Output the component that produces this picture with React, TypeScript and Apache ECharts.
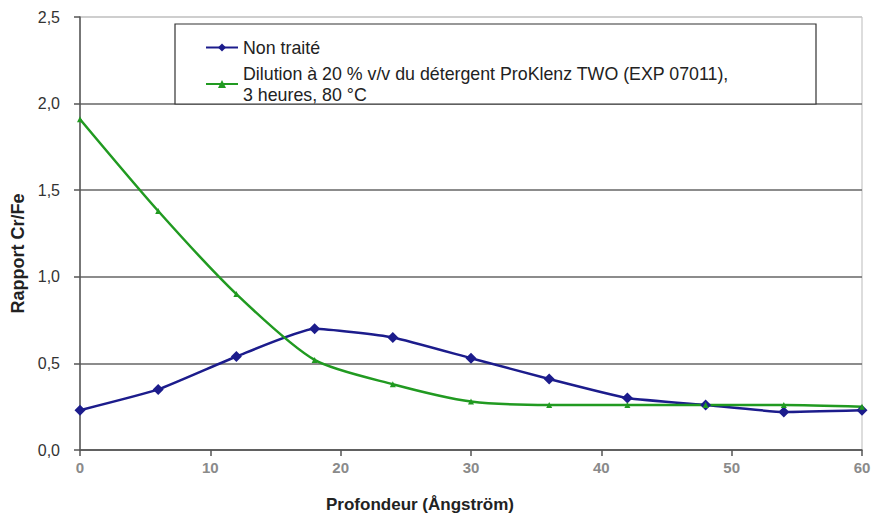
import React, { useEffect, useRef } from "react";
import * as echarts from "echarts";

const depths = [0, 6, 12, 18, 24, 30, 36, 42, 48, 54, 60];
const untreated = [0.23, 0.35, 0.54, 0.7, 0.65, 0.53, 0.41, 0.3, 0.26, 0.22, 0.23];
const treated = [1.91, 1.38, 0.9, 0.52, 0.38, 0.28, 0.26, 0.26, 0.26, 0.26, 0.25];
const seriesNames = ["Non traité", "Dilution à 20 % v/v du détergent ProKlenz TWO (EXP 07011),\n3 heures, 80 °C"];
const xTitle = "Profondeur (Ångström)";
const yTitle = "Rapport Cr/Fe";

export default function App() {
  const ref = useRef<HTMLDivElement>(null);
  useEffect(() => {
    document.body.style.margin = "0";
    const chart = echarts.init(ref.current!, null, { renderer: "svg" });
    const font = "'Liberation Sans', Arial, sans-serif";
    chart.setOption({
      animation: false,
      backgroundColor: "#fff",
      textStyle: { fontFamily: font },
      grid: { left: 80, right: 12, top: 17, bottom: 65, show: true, borderColor: "#bbb", borderWidth: 1 },
      graphic: [
        {
          type: "rect",
          z: 3,
          shape: { x: 175, y: 24, width: 641, height: 80 },
          style: { fill: "#fff", stroke: "#333", lineWidth: 1.2 },
        },
      ],
      legend: {
        orient: "vertical",
        left: 200,
        top: 32,
        z: 5,
        itemWidth: 32,
        itemHeight: 10,
        itemGap: 5,
        textStyle: { fontSize: 17.8, color: "#222", lineHeight: 21, fontFamily: font },
        data: seriesNames,
      },
      xAxis: {
        type: "value",
        min: 0,
        max: 60,
        interval: 10,
        name: xTitle,
        nameLocation: "middle",
        nameGap: 46,
        nameTextStyle: { fontSize: 17, fontWeight: "bold", color: "#222", padding: [0, 102, 0, 0] },
        axisLine: { lineStyle: { color: "#555", width: 1.5 } },
        axisTick: { show: true, length: 6, lineStyle: { color: "#555", width: 1.5 } },
        axisLabel: { color: "#8a8a8a", fontSize: 15, fontWeight: "bold", margin: 10 },
        splitLine: { show: false },
      },
      yAxis: {
        type: "value",
        min: 0,
        max: 2.5,
        interval: 0.5,
        name: yTitle,
        nameLocation: "middle",
        nameGap: 46,
        nameTextStyle: { fontSize: 18, fontWeight: "bold", color: "#222", padding: [0, 40, 0, 0] },
        axisLine: { show: true, lineStyle: { color: "#555", width: 1.5 } },
        axisTick: { show: true, length: 6, lineStyle: { color: "#555", width: 1.5 } },
        axisLabel: {
          color: "#333",
          fontSize: 16,
          margin: 20,
          formatter: (v: number) => v.toFixed(1).replace(".", ","),
        },
        splitLine: {
          show: true,
          lineStyle: { color: ["#666", "#666", "#666", "#666", "#666", "#c8c8c8"], width: 1.5 },
        },
      },
      series: [
        {
          name: seriesNames[0],
          type: "line",
          data: depths.map((d, i) => [d, untreated[i]]),
          smooth: 0.15,
          symbol: "diamond",
          symbolSize: 11,
          color: "#1c1c8c",
          lineStyle: { width: 2.5, color: "#1c1c8c" },
          itemStyle: { color: "#1c1c8c" },
        },
        {
          name: seriesNames[1],
          type: "line",
          data: depths.map((d, i) => [d, treated[i]]),
          smooth: 0.25,
          symbol: "triangle",
          symbolSize: 6,
          color: "#219a21",
          lineStyle: { width: 2.5, color: "#219a21" },
          itemStyle: { color: "#219a21" },
        },
      ],
    });
    return () => chart.dispose();
  }, []);
  return <div ref={ref} style={{ width: 874, height: 518 }} />;
}
